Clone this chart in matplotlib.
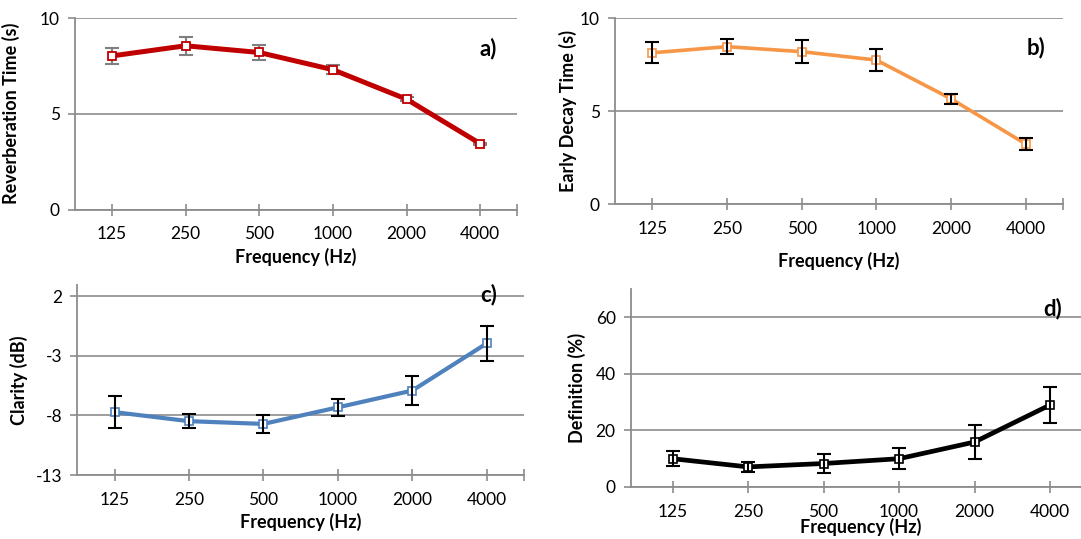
import matplotlib.pyplot as plt
import numpy as np

plt.rcParams['font.family'] = ['Lato', 'DejaVu Sans']

# frequency bands (x categories)
freqs = ['125', '250', '500', '1000', '2000', '4000']

# a) reverberation time
rt_mean = [8.02, 8.55, 8.2, 7.3, 5.76, 3.44]
rt_err = [0.41, 0.48, 0.4, 0.25, 0.1, 0.05]

# b) early decay time
edt_mean = [8.13, 8.46, 8.19, 7.74, 5.66, 3.23]
edt_err = [0.57, 0.41, 0.63, 0.58, 0.27, 0.31]

# c) clarity
c80_mean = [-7.72, -8.48, -8.71, -7.32, -5.91, -1.95]
c80_err = [1.37, 0.6, 0.78, 0.72, 1.24, 1.47]

# d) definition
d50_mean = [10.0, 7.1, 8.3, 10.0, 15.9, 29.0]
d50_err = [2.6, 1.9, 3.4, 3.8, 5.9, 6.4]

GRID = '#8c8c8c'


def setup_axis(ax, yticks, ylim, xlim, ylabel, tag, tag_pos, end_tick=True):
    x = np.arange(len(freqs))
    ax.set_xlim(*xlim)
    ax.set_ylim(*ylim)
    ax.set_xticks(x)
    ax.set_xticklabels(freqs)
    if end_tick:
        ax.set_xticks([5.5], minor=True)
    ax.set_yticks(yticks)
    ax.set_yticklabels([str(v) for v in yticks])
    for s in ['top', 'right']:
        ax.spines[s].set_visible(False)
    for s in ['left', 'bottom']:
        ax.spines[s].set_color(GRID)
        ax.spines[s].set_linewidth(1.3)
    ax.yaxis.grid(True, color=GRID, linewidth=1.2)
    ax.set_axisbelow(True)
    ax.tick_params(axis='x', which='both', direction='inout', length=8, width=1.2,
                   color=GRID, labelsize=12.5, pad=8)
    ax.tick_params(axis='y', direction='out', length=5, width=1.2, color=GRID,
                   labelsize=12.5, pad=6)
    ax.set_ylabel(ylabel, fontsize=13, fontweight='bold')
    ax.text(tag_pos[0], tag_pos[1], tag, transform=ax.transAxes, fontsize=16,
            fontweight='bold', ha='right', va='center')


fig = plt.figure(figsize=(10.81, 5.39), dpi=100)

x = np.arange(len(freqs))

# a)
ax = fig.add_axes([0.0694, 0.6113, 0.4089, 0.3553])
ax.errorbar(x, rt_mean, yerr=rt_err, fmt='none', ecolor='#7f7f7f', elinewidth=1.5,
            capsize=5, capthick=1.5, zorder=2)
ax.plot(x, rt_mean, color='#c00000', linewidth=3.6, marker='s', markersize=5.5,
        markerfacecolor='white', markeredgecolor='#c00000', markeredgewidth=1.3, zorder=3)
setup_axis(ax, [0, 5, 10], (0, 10), (-0.5, 5.5), 'Reverberation Time (s)', 'a)', (0.955, 0.843))
ax.set_xlabel('Frequency (Hz)', fontsize=13, fontweight='bold')
ax.xaxis.set_label_coords(0.5, -0.2)
ax.yaxis.set_label_coords(-0.125, 0.5)

# b)
ax = fig.add_axes([0.5689, 0.6215, 0.4144, 0.3451])
ax.plot(x, edt_mean, color='#f79646', linewidth=2.6, marker='s', markersize=5.5,
        markerfacecolor='white', markeredgecolor='#f79646', markeredgewidth=1.2, zorder=3)
ax.errorbar(x, edt_mean, yerr=edt_err, fmt='none', ecolor='black', elinewidth=1.5,
            capsize=5, capthick=1.5, zorder=4)
setup_axis(ax, [0, 5, 10], (0, 10), (-0.5, 5.5), 'Early Decay Time (s)', 'b)', (0.96, 0.84))
ax.set_xlabel('Frequency (Hz)', fontsize=13, fontweight='bold')
ax.xaxis.set_label_coords(0.5, -0.26)
ax.yaxis.set_label_coords(-0.085, 0.5)

# c)
ax = fig.add_axes([0.0715, 0.1187, 0.4132, 0.3525])
ax.plot(x, c80_mean, color='#4f81bd', linewidth=3.0, marker='s', markersize=5.5,
        markerfacecolor='white', markeredgecolor='#4f81bd', markeredgewidth=1.2, zorder=3)
ax.errorbar(x, c80_mean, yerr=c80_err, fmt='none', ecolor='black', elinewidth=1.5,
            capsize=5, capthick=1.5, zorder=4)
setup_axis(ax, [-13, -8, -3, 2], (-13, 2.95), (-0.5, 5.5), 'Clarity (dB)', 'c)', (0.94, 0.95))
ax.set_xlabel('Frequency (Hz)', fontsize=13, fontweight='bold')
ax.xaxis.set_label_coords(0.5, -0.2)
ax.yaxis.set_label_coords(-0.11, 0.5)

# d)
ax = fig.add_axes([0.5837, 0.0965, 0.4163, 0.3673])
ax.plot(x, d50_mean, color='black', linewidth=3.4, marker='s', markersize=5.5,
        markerfacecolor='white', markeredgecolor='black', markeredgewidth=1.2, zorder=3)
ax.errorbar(x, d50_mean, yerr=d50_err, fmt='none', ecolor='black', elinewidth=1.5,
            capsize=5, capthick=1.5, zorder=4)
setup_axis(ax, [0, 20, 40, 60], (0, 70), (-0.55, 5.41), 'Definition (%)', 'd)', (0.958, 0.904),
           end_tick=False)
ax.set_xlabel('Frequency (Hz)', fontsize=13, fontweight='bold', va='top')
# label sits tight under the tick labels, as in the original
ax.xaxis.set_label_coords(0.51, -0.155)
ax.yaxis.set_label_coords(-0.1, 0.5)

fig.savefig('out.png', dpi=100)
